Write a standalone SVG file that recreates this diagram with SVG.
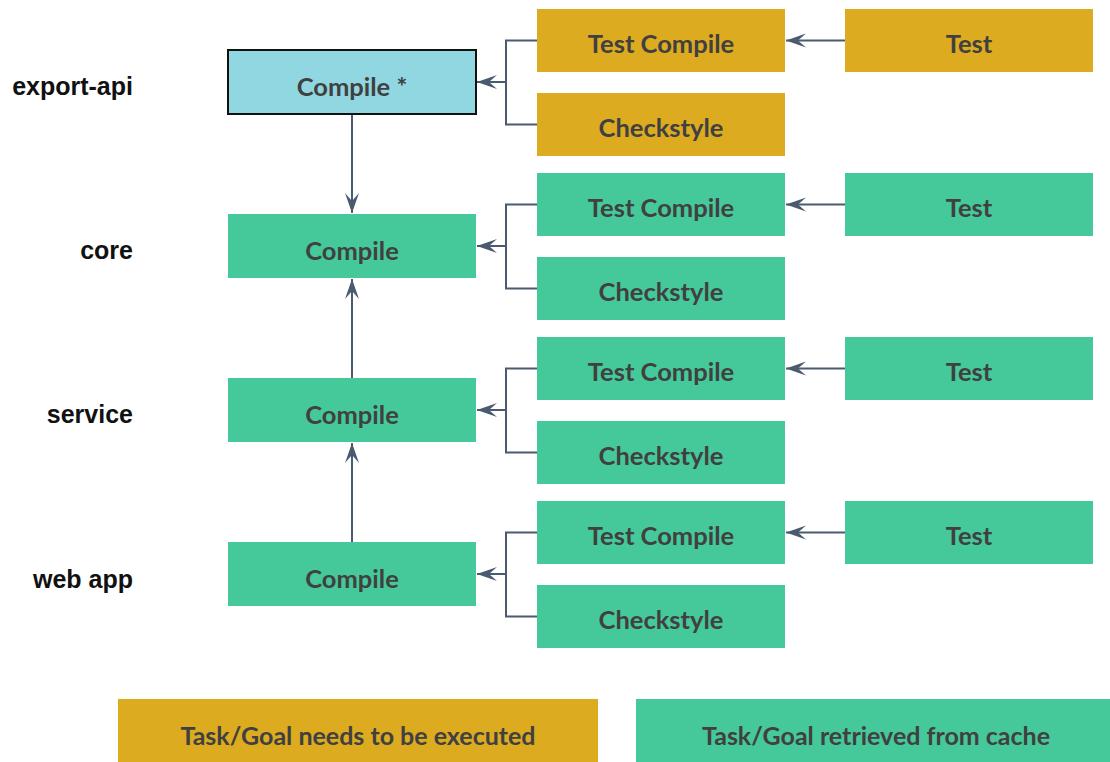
<svg xmlns="http://www.w3.org/2000/svg" width="1110" height="762" viewBox="0 0 1110 762">
  <style>
    .gold { fill: #dcab20; }
    .green { fill: #45c99a; }
    .blue { fill: #90d7e1; stroke: #111; stroke-width: 2; }
    .t { font-family: Lato, "Open Sans", sans-serif; font-weight: 700; font-size: 25.5px; fill: #404040; text-anchor: middle; dominant-baseline: central; }
    .lg { font-size: 25px; }
    .lbl { font-family: "Liberation Sans", Arial, sans-serif; font-weight: 700; font-size: 25px; fill: #111; text-anchor: end; dominant-baseline: central; }
    .c { fill: none; stroke: #4a5b70; stroke-width: 2; }
  </style>
  <defs>
    <marker id="arr" viewBox="0 0 22 16" refX="21" refY="8" markerWidth="22" markerHeight="16" markerUnits="userSpaceOnUse" orient="auto">
      <path d="M1,1 L21,8 L1,15 L9,8 Z" fill="#4a5b70"/>
    </marker>
  </defs>

  <!-- row labels -->
  <g id="labels">
    <text class="lbl" x="133" y="86">export-api</text>
    <text class="lbl" x="133" y="250">core</text>
    <text class="lbl" x="133" y="414">service</text>
    <text class="lbl" x="133" y="579">web app</text>
  </g>

  <!-- export-api -->
  <g id="export-api-compile"><rect class="blue" x="228" y="50" width="248" height="64"/><text class="t" x="352" y="86">Compile *</text></g>
  <g id="export-api-testcompile"><rect class="gold" x="537" y="9" width="248" height="63"/><text class="t" x="661" y="43">Test Compile</text></g>
  <g id="export-api-checkstyle"><rect class="gold" x="537" y="93" width="248" height="63"/><text class="t" x="661" y="127">Checkstyle</text></g>
  <g id="export-api-test"><rect class="gold" x="845" y="9" width="248" height="63"/><text class="t" x="969" y="43">Test</text></g>

  <!-- core -->
  <g id="core-compile"><rect class="green" x="228" y="214" width="248" height="64"/><text class="t" x="352" y="250">Compile</text></g>
  <g id="core-testcompile"><rect class="green" x="537" y="173" width="248" height="63"/><text class="t" x="661" y="207">Test Compile</text></g>
  <g id="core-checkstyle"><rect class="green" x="537" y="257" width="248" height="63"/><text class="t" x="661" y="291">Checkstyle</text></g>
  <g id="core-test"><rect class="green" x="845" y="173" width="248" height="63"/><text class="t" x="969" y="207">Test</text></g>

  <!-- service -->
  <g id="service-compile"><rect class="green" x="228" y="378" width="248" height="64"/><text class="t" x="352" y="414">Compile</text></g>
  <g id="service-testcompile"><rect class="green" x="537" y="337" width="248" height="63"/><text class="t" x="661" y="371">Test Compile</text></g>
  <g id="service-checkstyle"><rect class="green" x="537" y="421" width="248" height="63"/><text class="t" x="661" y="455">Checkstyle</text></g>
  <g id="service-test"><rect class="green" x="845" y="337" width="248" height="63"/><text class="t" x="969" y="371">Test</text></g>

  <!-- web app -->
  <g id="webapp-compile"><rect class="green" x="228" y="542" width="248" height="64"/><text class="t" x="352" y="578">Compile</text></g>
  <g id="webapp-testcompile"><rect class="green" x="537" y="501" width="248" height="63"/><text class="t" x="661" y="535">Test Compile</text></g>
  <g id="webapp-checkstyle"><rect class="green" x="537" y="585" width="248" height="63"/><text class="t" x="661" y="619">Checkstyle</text></g>
  <g id="webapp-test"><rect class="green" x="845" y="501" width="248" height="63"/><text class="t" x="969" y="535">Test</text></g>

  <!-- legend -->
  <g id="legend-executed"><rect class="gold" x="118" y="699" width="480" height="70"/><text class="t lg" x="358" y="735">Task/Goal needs to be executed</text></g>
  <g id="legend-cached"><rect class="green" x="636" y="699" width="480" height="70"/><text class="t lg" x="876" y="735">Task/Goal retrieved from cache</text></g>

  <!-- connectors -->
  <g id="connectors">
    <!-- Test -> Test Compile -->
    <path class="c" d="M845,40.5 H786" marker-end="url(#arr)"/>
    <path class="c" d="M845,204.5 H786" marker-end="url(#arr)"/>
    <path class="c" d="M845,368.5 H786" marker-end="url(#arr)"/>
    <path class="c" d="M845,532.5 H786" marker-end="url(#arr)"/>
    <!-- Test Compile / Checkstyle -> Compile -->
    <path class="c" d="M537,40.5 H506 V124.5 H537"/>
    <path class="c" d="M506,82 H477" marker-end="url(#arr)"/>
    <path class="c" d="M537,204.5 H506 V288.5 H537"/>
    <path class="c" d="M506,246 H477" marker-end="url(#arr)"/>
    <path class="c" d="M537,368.5 H506 V452.5 H537"/>
    <path class="c" d="M506,410 H477" marker-end="url(#arr)"/>
    <path class="c" d="M537,532.5 H506 V616.5 H537"/>
    <path class="c" d="M506,574 H477" marker-end="url(#arr)"/>
    <!-- module dependencies -->
    <path class="c" d="M352,115 V213" marker-end="url(#arr)"/>
    <path class="c" d="M352,378 V279" marker-end="url(#arr)"/>
    <path class="c" d="M352,542 V443" marker-end="url(#arr)"/>
  </g>
</svg>
